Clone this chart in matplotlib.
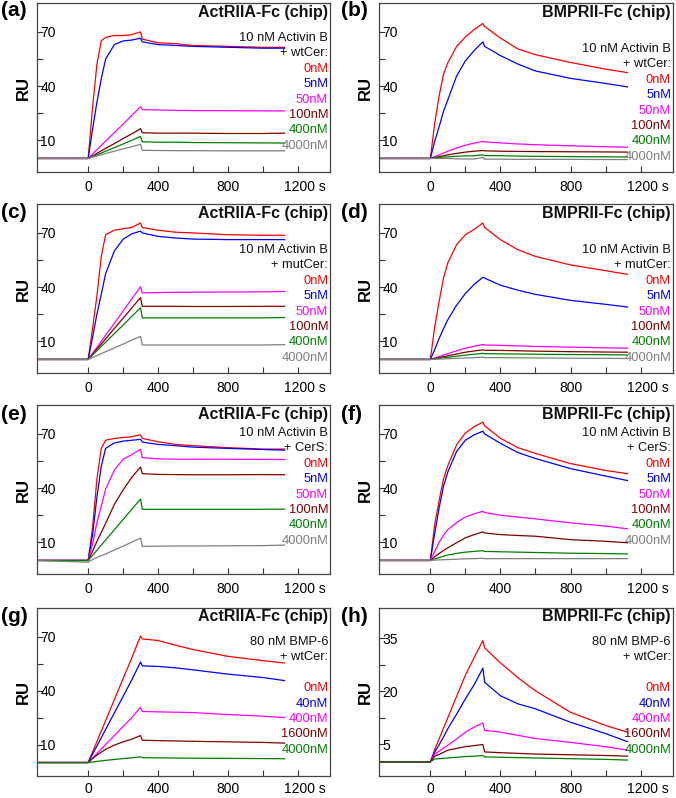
import matplotlib
matplotlib.use("Agg")
import matplotlib.pyplot as plt
import matplotlib.transforms as mtransforms

plt.rcParams["font.family"] = ["Liberation Sans", "DejaVu Sans"]

# time points (s); injection ends at 300 s
time_s = [-300, 0, 25, 50, 75, 100, 150, 200, 250, 300, 310, 400, 500, 600, 800, 1000, 1125]

conc_activin = ["0nM", "5nM", "50nM", "100nM", "400nM", "4000nM"]
conc_bmp6 = ["0nM", "40nM", "400nM", "1600nM", "4000nM"]

# RU per concentration (rows follow the concentration lists)
ru_a = [
    [0, 0, 28, 52, 65, 67, 68, 68, 68.5, 70, 66, 64, 63.5, 62.5, 62, 61.5, 61.5],
    [0, 0, 16, 31, 44, 55, 63, 65, 65.5, 66.5, 64.5, 63, 62.5, 62, 61.5, 61, 61],
    [0, 0, 2.4, 4.8, 7.2, 9.6, 14.3, 19, 23.8, 28.6, 27, 26.8, 26.6, 26.5, 26.4, 26.3, 26.3],
    [0, 0, 1.4, 2.8, 4.2, 5.6, 8.2, 11, 13.6, 16.5, 14.2, 14, 14, 14, 13.8, 13.8, 14],
    [0, 0, 1, 2, 3, 4, 6, 8, 10, 12.2, 9.2, 9, 9, 8.8, 8.7, 8.6, 8.5],
    [0, 0, 0.7, 1.4, 2, 2.7, 4, 5.3, 6.5, 7.8, 4.5, 4.4, 4.3, 4.3, 4.2, 4.2, 4.2],
]
ru_b = [
    [0, 0, 19.5, 34.5, 46.5, 53, 62, 67.2, 71.3, 74.7, 73, 66.6, 60.6, 57.4, 53.1, 49.4, 47.5],
    [0, 0, 9.5, 17.5, 26, 32.5, 45.6, 54, 59.7, 64.5, 62, 56.9, 52.2, 48.4, 44.3, 41.5, 39.6],
    [0, 0, 1, 2, 3, 4, 5.8, 7.3, 8.5, 9.4, 9.2, 8.6, 8, 7.6, 7, 6.5, 6.2],
    [0, 0, 0.5, 1, 1.5, 2, 2.8, 3.5, 4, 4.4, 4.2, 4, 3.9, 3.8, 3.7, 3.6, 3.5],
    [0, 0, 0.3, 0.5, 0.7, 0.9, 1.2, 1.4, 1.5, 2, 1.6, 1.5, 1.3, 1.2, 1, 0.9, 0.8],
    [0, 0, 0, 0, 0, 0, -0.2, -0.3, -0.3, 0.5, -0.4, -0.4, -0.5, -0.5, -0.5, -0.6, -0.6],
]
ru_c = [
    [0, 0, 17, 35, 57, 69, 71.5, 72.3, 73, 75.5, 73, 71.5, 70.4, 70, 69, 68.7, 68.7],
    [0, 0, 12, 25, 36, 47.5, 60, 66.5, 69.5, 71, 70, 68.1, 67.2, 66.6, 66.3, 66.3, 66.3],
    [0, 0, 3.3, 6.7, 10, 13.4, 20, 26.8, 33.5, 40.2, 36.8, 37, 37.2, 37.2, 37.3, 37.4, 37.6],
    [0, 0, 2.85, 5.7, 8.5, 11.4, 17.1, 22.8, 28.5, 34.2, 29.4, 29.4, 29.4, 29.3, 29.3, 29.4, 29.4],
    [0, 0, 2.4, 4.8, 7.2, 9.5, 14.3, 19, 23.8, 28.6, 23, 23, 23, 23, 23, 23, 23.2],
    [0, 0, 1.1, 2.1, 3.2, 4.3, 6.4, 8.5, 10.7, 12.8, 8, 8, 8, 8, 8, 8, 8.2],
]
ru_d = [
    [0, 0, 18, 32, 45, 53.5, 63.5, 69, 72, 75.5, 73, 66.3, 60.7, 57, 52.3, 49.1, 47.1],
    [0, 0, 5.5, 11.5, 17, 22, 30, 36.5, 41.5, 45.5, 45, 41.1, 38.3, 36, 32.7, 30.5, 29],
    [0, 0, 0.8, 1.6, 2.4, 3.2, 4.8, 6.2, 7.3, 8.3, 8, 7.8, 7.5, 7.2, 6.8, 6.4, 6.2],
    [0, 0, 0.5, 1, 1.5, 2, 3, 4, 4.7, 5.3, 5.1, 5, 4.8, 4.6, 4.3, 4.1, 4],
    [0, 0, 0.3, 0.6, 0.9, 1.2, 1.8, 2.4, 2.9, 3.4, 3.2, 3.1, 3, 2.9, 2.7, 2.6, 2.5],
    [0, 0, 0.1, 0.2, 0.3, 0.4, 0.6, 0.8, 1, 1.3, 1, 1, 0.9, 0.8, 0.7, 0.6, 0.5],
]
ru_e = [
    [0, 0, 18, 45, 62, 66.5, 67.5, 68, 68.5, 69.5, 67.5, 65.7, 64.2, 63.5, 62.4, 61.6, 61.6],
    [0, 0, 14, 35, 52, 62, 65, 66, 66.5, 67, 65.5, 64.2, 63.5, 62.7, 62, 61.4, 61],
    [0, 0, 9, 21, 30, 39.5, 50, 56, 58.5, 61.5, 56.9, 56.2, 56, 56, 56, 55.9, 55.8],
    [0, 0, 5, 10.5, 15.5, 20.5, 31, 39, 46, 51.7, 48, 47.6, 47.5, 47.4, 47.4, 47.5, 47.4],
    [0, 0, 2.8, 5.6, 8.5, 11.3, 17, 22.6, 28.3, 34, 28.3, 28.3, 28.3, 28.3, 28.3, 28.3, 28.4],
    [0, -1, 0.5, 1.6, 2.6, 3.6, 5.8, 7.9, 10.1, 12.4, 7.8, 7.9, 8, 8, 8.1, 8.2, 8.5],
]
ru_f = [
    [0, 0, 20, 33, 45, 52.5, 64, 70.5, 74, 76.5, 74.5, 67.6, 62.4, 59.2, 53.6, 49.8, 48],
    [0, 0, 15, 29, 41, 49, 60.3, 66.5, 69.5, 71.5, 70, 64.8, 59.7, 56.4, 50.8, 46.7, 44.2],
    [0, 0, 5, 10, 14, 17, 21, 24, 25.8, 27.2, 26.5, 25, 24, 23, 20.8, 19, 17.5],
    [0, 0, 2, 3.8, 5.5, 7, 9.8, 12.5, 14.3, 15.8, 15.2, 14.3, 13.8, 13.4, 11.5, 10.6, 9.8],
    [0, 0, 0.8, 1.6, 2.3, 3, 3.9, 4.6, 5, 5.4, 5, 4.8, 4.6, 4.4, 4, 3.8, 3.6],
    [0, 0, 0.2, 0.3, 0.4, 0.5, 0.7, 0.9, 1, 1.2, 1, 1, 1, 1, 1, 1, 1],
]
ru_g = [
    [0, 0, 5.8, 11.7, 17.5, 23.3, 35, 46.7, 58.3, 70.4, 68.8, 67.9, 65.3, 62.9, 59.1, 56.7, 55.4],
    [0, 0, 4.6, 9.2, 13.8, 18.4, 27.6, 36.8, 46, 56, 53.8, 53.5, 52.7, 51.6, 49.2, 47.3, 45.6],
    [0, 0, 2.5, 5, 7.5, 10, 15, 20, 25, 30.8, 28.4, 28.2, 28, 27.8, 26.7, 25.8, 25],
    [0, 0, 2.2, 4.1, 5.8, 7.3, 9.7, 11.5, 13, 15, 12.4, 12.2, 12, 11.8, 11.5, 11.2, 10.8],
    [0, 0, 0.3, 0.6, 0.9, 1.2, 1.7, 2.2, 2.6, 3.2, 2.7, 2.6, 2.5, 2.4, 2.3, 2.2, 2.1],
]
ru_h = [
    [0, 0, 3.5, 6.5, 9.5, 12.5, 18.5, 24.5, 29.5, 34.3, 32.2, 28, 23.8, 20.1, 14, 10.3, 8.4],
    [0, 0, 2.8, 4.8, 7, 9.4, 13.5, 17.8, 21.8, 26.5, 22.5, 18.7, 16.4, 15, 11.2, 8, 5.7],
    [0, 0, 2.2, 3, 3.9, 4.7, 6.5, 8.4, 9.8, 11, 8.9, 8.4, 7.5, 6.6, 5.5, 4.3, 3.3],
    [0, 0, 1.6, 2.1, 2.7, 3.3, 3.8, 4.3, 4.6, 4.9, 2.8, 2.6, 2.4, 2.2, 2, 1.8, 1.6],
    [0, 0, 0.8, 0.9, 1, 1.1, 1.3, 1.5, 1.6, 1.8, 1.4, 1.3, 1.2, 1.1, 0.9, 0.7, 0.5],
]

line_colors = ["#ff0000", "#0000ff", "#ff00ff", "#800000", "#008000", "#808080"]

W, H = 676, 798
col_left = [37, 379]
col_width = [293, 294]
row_top = [3, 204, 405, 608]
row_h = [169, 169, 169, 168]
x_pad = [6, 6, 6, 4]
step = 15.4  # legend line spacing, px

panels = [
    ("(a)", "ActRIIA-Fc (chip)", ["10 nM Activin B", "+ wtCer:"], conc_activin, ru_a, 35),
    ("(b)", "BMPRII-Fc (chip)", ["10 nM Activin B", "+ wtCer:"], conc_activin, ru_b, 46),
    ("(c)", "ActRIIA-Fc (chip)", ["10 nM Activin B", "+ mutCer:"], conc_activin, ru_c, 46),
    ("(d)", "BMPRII-Fc (chip)", ["10 nM Activin B", "+ mutCer:"], conc_activin, ru_d, 46),
    ("(e)", "ActRIIA-Fc (chip)", ["10 nM Activin B", "+ CerS:"], conc_activin, ru_e, 28),
    ("(f)", "BMPRII-Fc (chip)", ["10 nM Activin B", "+ CerS:"], conc_activin, ru_f, 28),
    ("(g)", "ActRIIA-Fc (chip)", ["80 nM BMP-6", "+ wtCer:", ""], conc_bmp6, ru_g, 34),
    ("(h)", "BMPRII-Fc (chip)", ["80 nM BMP-6", "+ wtCer:", ""], conc_bmp6, ru_h, 34),
]

fig = plt.figure(figsize=(W / 100, H / 100), dpi=100)

for i, (tag, title, header, concs, curves, head_y) in enumerate(panels):
    r, c = divmod(i, 2)
    left, top = col_left[c], row_top[r]
    ax = fig.add_axes([left / W, 1 - (top + row_h[r]) / H, col_width[c] / W, row_h[r] / H])

    for vals, col in zip(curves, line_colors):
        ax.plot(time_s, vals, color=col, lw=0.9)

    ax.set_xlim(-293, 1385)
    if tag == "(h)":
        ax.set_ylim(-4, 43.5)
        ax.set_yticks([5, 20, 35])
        ax.set_yticks([12.5, 27.5], minor=True)
    else:
        ax.set_ylim(-7.5, 86)
        ax.set_yticks([10, 40, 70])
        ax.set_yticks([25, 55], minor=True)
    ax.set_xticks([0, 400, 800, 1200])
    ax.set_xticklabels(["0", "400", "800", "1200 s"])
    ax.set_xticks([200, 600, 1000], minor=True)

    ax.tick_params(which="both", direction="in", length=4, width=0.8, color="#333333",
                   labelsize=10, top=False, right=False)
    ax.tick_params(axis="x", pad=x_pad[r])
    ax.tick_params(axis="y", pad=-2.5)
    plt.setp(ax.get_yticklabels(), ha="left")
    # keep "1200" centred on its tick, the unit trails to the right
    last = ax.get_xticklabels()[-1]
    last.set_transform(last.get_transform()
                       + mtransforms.ScaledTranslation(0.07, 0, fig.dpi_scale_trans))
    for sp in ax.spines.values():
        sp.set_color("#444444")
        sp.set_linewidth(0.9)

    ax.set_ylabel("RU", fontsize=12, fontweight="bold", labelpad=1)

    # title and legend text, right aligned inside the axes
    ax.annotate(title, xy=(1, 1), xycoords="axes fraction", xytext=(-2 * 0.72, -9 * 0.72),
                textcoords="offset points", ha="right", va="center",
                fontsize=11.5, fontweight="bold", color="#111111")
    lines = [(t, "#111111") for t in header] + list(zip(concs, line_colors))
    for k, (txt, col) in enumerate(lines):
        if not txt:
            continue
        ax.annotate(txt, xy=(1, 1), xycoords="axes fraction",
                    xytext=(-2 * 0.72, -(head_y + k * step) * 0.72),
                    textcoords="offset points", ha="right", va="center",
                    fontsize=9.3, color=col)

    fig.text((1 if c == 0 else 341) / W, 1 - (top + (7 if r == 0 else 9)) / H, tag,
             ha="left", va="center", fontsize=15, fontweight="bold")

fig.savefig("out.png", dpi=100)
